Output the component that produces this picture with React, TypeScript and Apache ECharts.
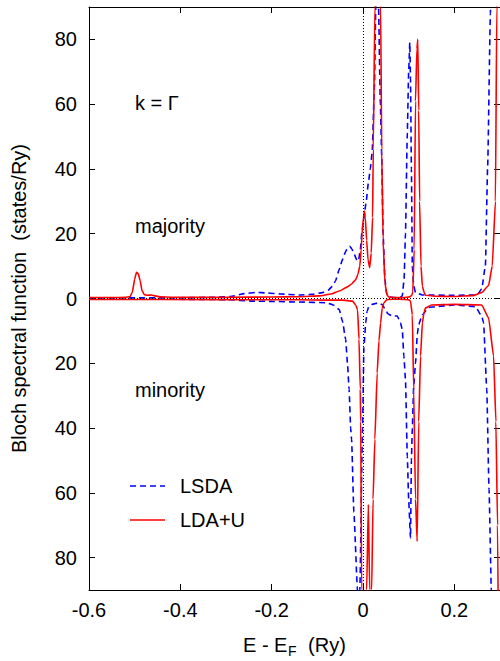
import React, { useEffect, useRef } from "react";
import * as echarts from "echarts";

// ---- data ----
const xTicks = [-0.6, -0.4, -0.2, 0, 0.2];
const yTicks = [-80, -60, -40, -20, 0, 20, 40, 60, 80];

// LDA+U, majority (positive)
const ldauMajority: number[][] = [
  [-0.6, 0.3], [-0.55, 0.3], [-0.52, 0.35], [-0.51, 0.6], [-0.505, 2], [-0.5, 6], [-0.496, 8.1],
  [-0.492, 7.6], [-0.488, 5.5], [-0.484, 2.5], [-0.479, 1.2], [-0.472, 1.0], [-0.463, 1.1],
  [-0.455, 0.8], [-0.445, 0.5], [-0.42, 0.4], [-0.3, 0.4], [-0.2, 0.45], [-0.14, 0.55],
  [-0.096, 0.8], [-0.07, 1.4], [-0.052, 2.3], [-0.035, 3.5], [-0.025, 4.5], [-0.016, 5.8],
  [-0.011, 7.5], [-0.007, 10], [-0.004, 15], [-0.002, 20], [0.001, 25], [0.003, 27],
  [0.005, 25], [0.008, 18], [0.011, 12], [0.0146, 9.5], [0.018, 14], [0.021, 25],
  [0.0225, 46], [0.026, 90], [0.029, 140], [0.032, 170], [0.035, 140], [0.0386, 90],
  [0.041, 46], [0.044, 18], [0.048, 5], [0.052, 1.2], [0.056, 0.5], [0.07, 0.3], [0.09, 0.3],
  [0.102, 0.5], [0.107, 1], [0.109, 2], [0.112, 15], [0.115, 61], [0.118, 77], [0.12, 80],
  [0.122, 58], [0.124, 30], [0.127, 10], [0.13, 3.8], [0.134, 1.8], [0.137, 1], [0.16, 0.7],
  [0.2, 0.6], [0.24, 0.9], [0.26, 1.8], [0.275, 4], [0.283, 10], [0.29, 30], [0.293, 90],
  [0.296, 160], [0.3, 220],
];

// LSDA, majority (positive)
const lsdaMajority: number[][] = [
  [-0.6, 0.2], [-0.4, 0.25], [-0.32, 0.4], [-0.29, 0.6], [-0.26, 1.5], [-0.234, 1.9],
  [-0.21, 1.7], [-0.18, 1.4], [-0.14, 1.1], [-0.11, 1.3], [-0.089, 1.8], [-0.076, 2.6],
  [-0.067, 3.8], [-0.06, 5.5], [-0.052, 9], [-0.045, 12], [-0.038, 14.5], [-0.033, 15.8],
  [-0.029, 16.1], [-0.024, 15.2], [-0.02, 14], [-0.014, 12], [-0.01, 11.5], [-0.006, 15],
  [-0.002, 21], [0.002, 25], [0.007, 30], [0.012, 36], [0.016, 40], [0.02, 45], [0.025, 65],
  [0.028, 90], [0.031, 100], [0.034, 90], [0.038, 60], [0.041, 44], [0.044, 20], [0.048, 6],
  [0.052, 1.5], [0.056, 0.5], [0.07, 0.3], [0.082, 0.4], [0.086, 0.8], [0.09, 6], [0.093, 20],
  [0.097, 51], [0.1, 70], [0.1025, 79], [0.104, 68], [0.106, 40], [0.108, 10], [0.111, 4],
  [0.115, 1.8], [0.13, 1.1], [0.2, 1], [0.25, 1.1], [0.26, 3], [0.268, 10], [0.273, 41],
  [0.279, 88], [0.283, 130], [0.29, 180], [0.3, 200],
];

// LDA+U, minority (drawn negative)
const ldauMinority: number[][] = [
  [-0.6, -0.3], [-0.3, -0.35], [-0.14, -0.4], [-0.08, -0.5], [-0.046, -0.5], [-0.023, -0.8],
  [-0.016, -2], [-0.012, -3.4], [-0.0087, -12.6], [-0.006, -28], [-0.005, -38], [-0.003, -90],
  [0, -170], [0.004, -170], [0.008, -90], [0.0117, -63.6], [0.0146, -90], [0.0165, -140],
  [0.019, -90], [0.022, -62], [0.026, -43.5], [0.031, -23], [0.035, -13], [0.0386, -7.5],
  [0.042, -3], [0.046, -1.3], [0.053, -0.3], [0.08, -0.2], [0.1, -0.4], [0.104, -0.8],
  [0.108, -5], [0.111, -28], [0.115, -62], [0.1186, -75], [0.122, -38], [0.126, -17.8],
  [0.13, -7.5], [0.134, -4], [0.137, -2.9], [0.15, -2], [0.2, -1.8], [0.26, -2], [0.275, -6],
  [0.286, -17.8], [0.291, -38], [0.2946, -70], [0.298, -130], [0.3, -180],
];

// LSDA, minority (drawn negative)
const lsdaMinority: number[][] = [
  [-0.6, -0.2], [-0.4, -0.25], [-0.3, -0.35], [-0.24, -0.8], [-0.2, -0.9], [-0.14, -1.1],
  [-0.08, -1.3], [-0.065, -2], [-0.052, -3.4], [-0.045, -7], [-0.038, -12.6], [-0.034, -20],
  [-0.0305, -28], [-0.027, -40], [-0.025, -43.5], [-0.02, -66], [-0.0124, -89], [-0.01, -130],
  [-0.007, -90], [-0.001, -40], [0.002, -15], [0.006, -7.5], [0.009, -4], [0.013, -2.4],
  [0.02, -1.8], [0.035, -1.3], [0.042, -1.9], [0.049, -3.4], [0.055, -4.8], [0.064, -5.4],
  [0.075, -5.4], [0.082, -7.5], [0.086, -9.6], [0.0895, -17.8], [0.093, -25], [0.097, -48.7],
  [0.1, -62], [0.104, -74], [0.106, -50], [0.108, -40], [0.111, -27], [0.115, -20],
  [0.119, -11], [0.122, -8], [0.13, -5], [0.144, -2.8], [0.16, -2.5], [0.2, -2], [0.246, -2.5],
  [0.26, -5.4], [0.264, -7.5], [0.271, -28], [0.276, -59], [0.281, -90], [0.285, -130],
  [0.29, -150], [0.3, -160],
];

const FONT = "Liberation Sans, Arial, Helvetica, sans-serif";
const BLUE = "#0000ff";
const RED = "#ff0000";

export default function App() {
  const ref = useRef<HTMLDivElement>(null);
  useEffect(() => {
    if (!ref.current) return;
    const chart = echarts.init(ref.current, undefined, { renderer: "svg" });
    const fmtX = (v: number) => {
      if (Math.abs(v - 0.3) < 1e-6) return "";
      const r = Math.round(v * 10) / 10;
      return r === 0 ? "0" : String(r);
    };
    const fmtY = (v: number) => String(Math.abs(Math.round(v)));
    const axisLine = { show: true, onZero: false, lineStyle: { color: "#000", width: 1 } };
    const tick = (vals: number[]) => ({
      show: true,
      inside: true,
      length: 6,
      customValues: vals,
      lineStyle: { color: "#000", width: 1 },
    });
    const lineSeries = (name: string, data: number[][], color: string, dashed: boolean) => ({
      type: "line",
      name,
      data,
      showSymbol: false,
      symbol: "none",
      smooth: 0.15,
      smoothMonotone: "x",
      clip: true,
      lineStyle: { color, width: 1.6, type: dashed ? [6, 4] : "solid" },
      itemStyle: { color },
      z: dashed ? 2 : 3,
    });
    chart.setOption({
      animation: false,
      backgroundColor: "#fff",
      grid: { left: 89, top: 7, width: 412, height: 583, containLabel: false },
      xAxis: [
        {
          type: "value",
          min: -0.6,
          max: 0.3,
          position: "bottom",
          axisLine,
          axisTick: tick(xTicks),
          axisLabel: {
            customValues: xTicks,
            formatter: fmtX,
            color: "#000",
            fontFamily: FONT,
            fontSize: 20,
            margin: 10,
          },
          splitLine: { show: false },
        },
        {
          type: "value",
          min: -0.6,
          max: 0.3,
          position: "top",
          axisLine,
          axisTick: tick(xTicks),
          axisLabel: { show: false },
          splitLine: { show: false },
        },
      ],
      yAxis: [
        {
          type: "value",
          min: -90,
          max: 90,
          position: "left",
          axisLine,
          axisTick: tick(yTicks),
          axisLabel: {
            customValues: yTicks,
            formatter: fmtY,
            color: "#000",
            fontFamily: FONT,
            fontSize: 20,
            margin: 12,
          },
          splitLine: { show: false },
          name: "Bloch spectral function  (states/Ry)",
          nameLocation: "middle",
          nameGap: 60,
          nameTextStyle: { color: "#000", fontFamily: FONT, fontSize: 20 },
        },
        {
          type: "value",
          min: -90,
          max: 90,
          position: "right",
          axisLine,
          axisTick: tick(yTicks),
          axisLabel: { show: false },
          splitLine: { show: false },
        },
      ],
      series: [
        lineSeries("LSDA", lsdaMajority, BLUE, true),
        lineSeries("LSDA minority", lsdaMinority, BLUE, true),
        lineSeries("LDA+U", ldauMajority, RED, false),
        {
          ...lineSeries("LDA+U minority", ldauMinority, RED, false),
          markLine: {
            silent: true,
            symbol: "none",
            label: { show: false },
            lineStyle: { color: "#000", width: 1, type: [1, 2] },
            data: [{ xAxis: 0 }, { yAxis: 0 }],
            z: 10,
          },
        },
      ],
      graphic: [
        { type: "text", left: 135, top: 93, style: { text: "k = Γ", fontFamily: FONT, fontSize: 20, fill: "#000" } },
        { type: "text", left: 135, top: 216, style: { text: "majority", fontFamily: FONT, fontSize: 20, fill: "#000" } },
        { type: "text", left: 135, top: 380, style: { text: "minority", fontFamily: FONT, fontSize: 20, fill: "#000" } },
        { type: "line", shape: { x1: 130, y1: 486, x2: 165, y2: 486 }, style: { stroke: BLUE, lineWidth: 1.6, lineDash: [6, 4] } },
        { type: "text", x: 180, y: 486, style: { text: "LSDA", fontFamily: FONT, fontSize: 20, fill: "#000", verticalAlign: "middle" } },
        { type: "line", shape: { x1: 130, y1: 520, x2: 165, y2: 520 }, style: { stroke: RED, lineWidth: 1.6 } },
        { type: "text", x: 180, y: 520, style: { text: "LDA+U", fontFamily: FONT, fontSize: 20, fill: "#000", verticalAlign: "middle" } },
        { type: "text", x: 243, y: 645, style: { text: "E - E", fontFamily: FONT, fontSize: 20, fill: "#000", verticalAlign: "middle" } },
        { type: "text", x: 288, y: 651, style: { text: "F", fontFamily: FONT, fontSize: 14, fill: "#000", verticalAlign: "middle" } },
        { type: "text", x: 297, y: 645, style: { text: "  (Ry)", fontFamily: FONT, fontSize: 20, fill: "#000", verticalAlign: "middle" } },
      ],
    });
    return () => chart.dispose();
  }, []);
  return <div ref={ref} style={{ position: "fixed", left: 0, top: 0, width: 500, height: 661 }} />;
}
